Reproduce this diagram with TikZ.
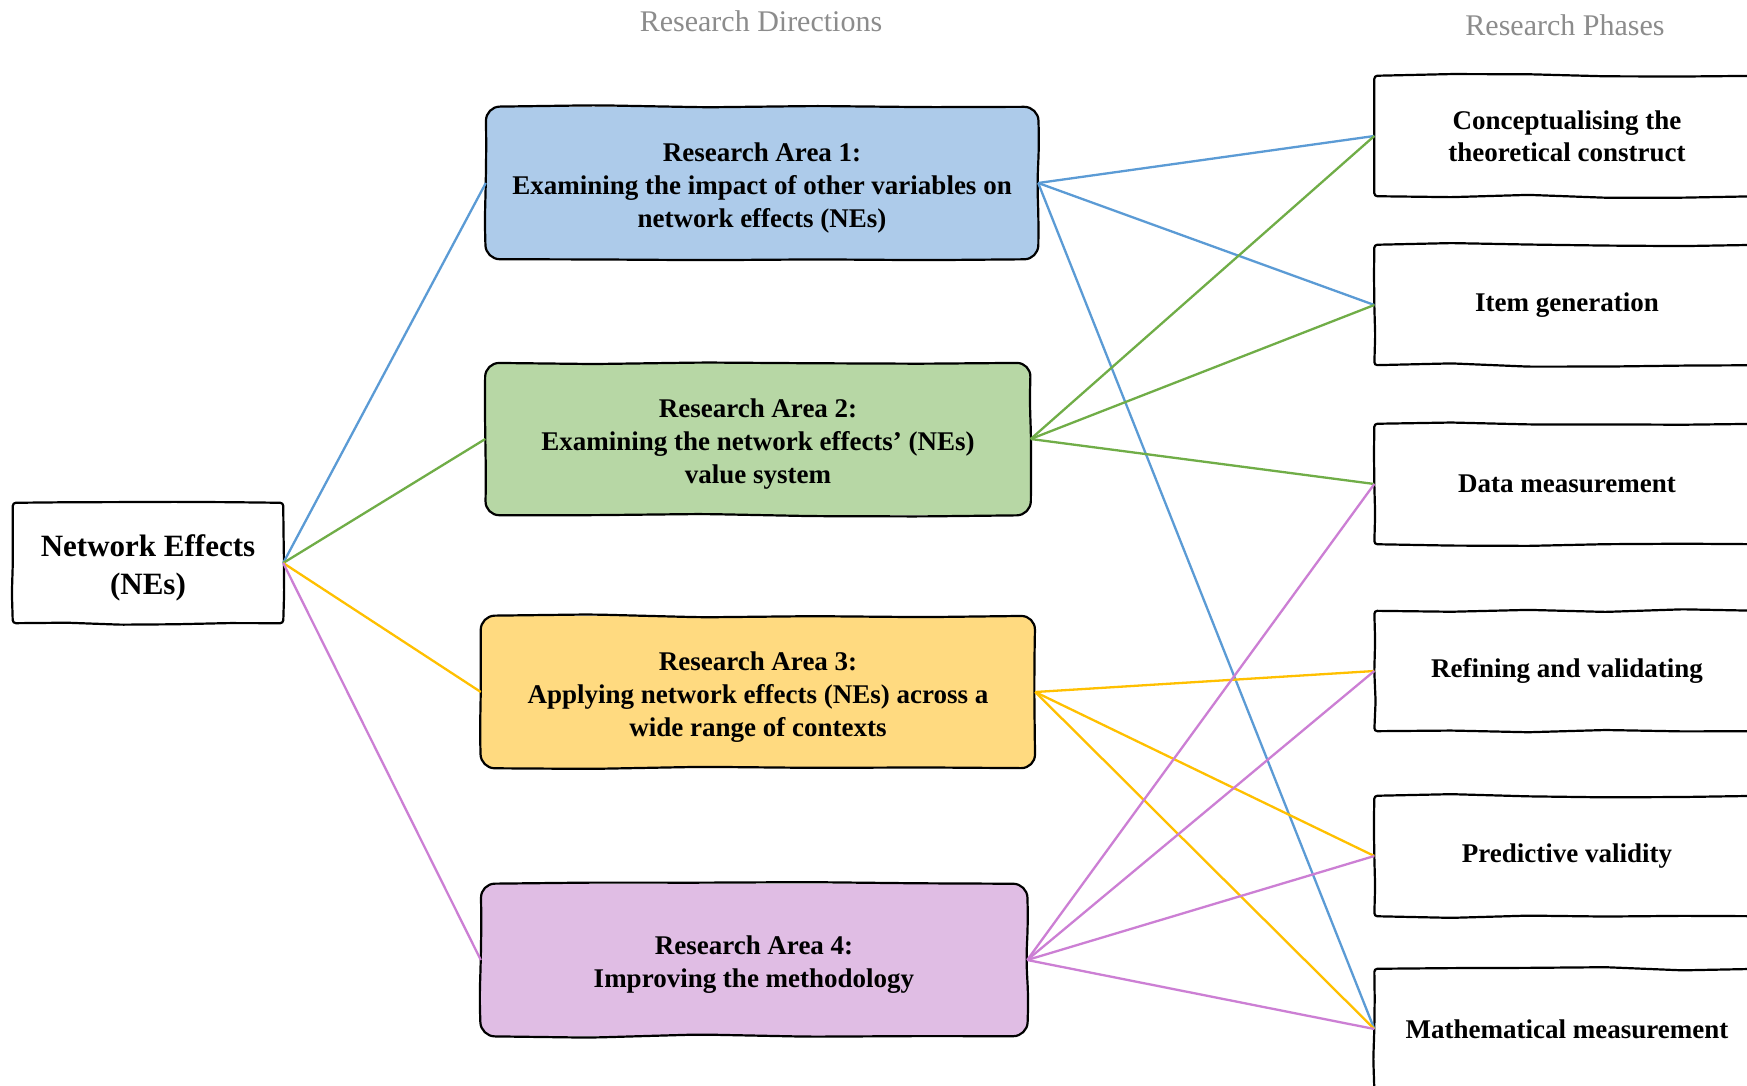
\documentclass[tikz,border=0pt]{standalone}
\usepackage{fontspec}
\setmainfont{Liberation Serif}
\usetikzlibrary{calc}
\definecolor{lnblue}{HTML}{5B9BD5}
\definecolor{lngreen}{HTML}{70AD47}
\definecolor{lnyellow}{HTML}{FFC000}
\definecolor{lnpink}{HTML}{CC7FD4}
\definecolor{fillblue}{HTML}{ADCBEA}
\definecolor{fillgreen}{HTML}{B7D7A5}
\definecolor{fillyellow}{HTML}{FFDA80}
\definecolor{fillpink}{HTML}{E0BDE4}
\definecolor{headgray}{HTML}{8C8C8C}
% hand-drawn outline around a named node: #1 node, #2 corner rounding
\newcommand\sketchoutline[2]{%
  \draw[line width=2.2pt, rounded corners=#2]
    (#1.west)
    -- ($(#1.west)!0.5!(#1.north west)+({1.3*rand},0)$)
    -- (#1.north west)
    -- ($(#1.north west)!0.2!(#1.north east)+(0,{1.8*rand})$)
    -- ($(#1.north west)!0.4!(#1.north east)+(0,{1.8*rand})$)
    -- ($(#1.north west)!0.6!(#1.north east)+(0,{1.8*rand})$)
    -- ($(#1.north west)!0.8!(#1.north east)+(0,{1.8*rand})$)
    -- (#1.north east)
    -- ($(#1.north east)!0.5!(#1.east)+({1.3*rand},0)$)
    -- ($(#1.east)+({1.0*rand},0)$)
    -- ($(#1.east)!0.5!(#1.south east)+({1.3*rand},0)$)
    -- (#1.south east)
    -- ($(#1.south east)!0.2!(#1.south west)+(0,{1.8*rand})$)
    -- ($(#1.south east)!0.4!(#1.south west)+(0,{1.8*rand})$)
    -- ($(#1.south east)!0.6!(#1.south west)+(0,{1.8*rand})$)
    -- ($(#1.south east)!0.8!(#1.south west)+(0,{1.8*rand})$)
    -- (#1.south west)
    -- ($(#1.south west)!0.5!(#1.west)+({1.3*rand},0)$)
    -- cycle;
}
\begin{document}
\begin{tikzpicture}[x=1pt,y=-1pt,
  boxbase/.style={inner sep=0pt, align=center},
  areabox/.style={boxbase, rounded corners=13pt, minimum height=152pt,
    font=\bfseries\fontsize{27}{33}\selectfont},
  phasebox/.style={boxbase, minimum width=385pt, minimum height=120pt,
    font=\bfseries\fontsize{27}{32}\selectfont},
  heading/.style={text=headgray, font=\fontsize{30}{32}\selectfont},
  link/.style={line width=2.3pt}]
\pgfmathsetseed{11}
\useasboundingbox[fill=white] (0,0) rectangle (1747,1086);

% column headings
\node[heading] (hdir) at (761,21) {Research Directions};
\node[heading] (hphase) at (1565,25) {Research Phases};

% source node
\node[boxbase, minimum width=270pt, minimum height=120pt,
  font=\bfseries\fontsize{31}{38}\selectfont] (ne) at (148,563)
  {\rule{0pt}{32pt}Network Effects\\(NEs)};

% research areas
\node[areabox, fill=fillblue, minimum width=552pt] (ra1) at (762,183)
  {\rule{0pt}{28pt}Research Area 1:\\Examining the impact of other variables on\\network effects (NEs)};
\node[areabox, fill=fillgreen, minimum width=545pt] (ra2) at (758,439)
  {\rule{0pt}{28pt}Research Area 2:\\Examining the network effects’ (NEs)\\value system};
\node[areabox, fill=fillyellow, minimum width=554pt] (ra3) at (758,692)
  {\rule{0pt}{28pt}Research Area 3:\\Applying network effects (NEs) across a\\wide range of contexts};
\node[areabox, fill=fillpink, minimum width=546pt] (ra4) at (754,960)
  {\rule{0pt}{28pt}Research Area 4:\\Improving the methodology};

% research phases
\node[phasebox] (p1) at (1567,136) {Conceptualising the\\theoretical construct};
\node[phasebox] (p2) at (1567,305) {Item generation};
\node[phasebox] (p3) at (1567,484) {Data measurement};
\node[phasebox] (p4) at (1567,671) {Refining and validating};
\node[phasebox] (p5) at (1567,856) {Predictive validity};
\node[phasebox] (p6) at (1567,1029) {Mathematical measurement};

% hand-drawn borders
\sketchoutline{ne}{3pt}
\foreach \a in {ra1,ra2,ra3,ra4} {\sketchoutline{\a}{14pt}}
\foreach \p in {p1,p2,p3,p4,p5,p6} {\sketchoutline{\p}{3pt}}

% connectors: source to areas
\draw[link, lnblue] (ne.east) -- (ra1.west);
\draw[link, lngreen] (ne.east) -- (ra2.west);
\draw[link, lnyellow] (ne.east) -- (ra3.west);
\draw[link, lnpink] (ne.east) -- (ra4.west);

% connectors: areas to phases
\foreach \p in {p1,p2,p6} \draw[link, lnblue] (ra1.east) -- (\p.west);
\foreach \p in {p1,p2,p3} \draw[link, lngreen] (ra2.east) -- (\p.west);
\foreach \p in {p4,p5,p6} \draw[link, lnyellow] (ra3.east) -- (\p.west);
\foreach \p in {p3,p4,p5,p6} \draw[link, lnpink] (ra4.east) -- (\p.west);
\end{tikzpicture}
\end{document}
